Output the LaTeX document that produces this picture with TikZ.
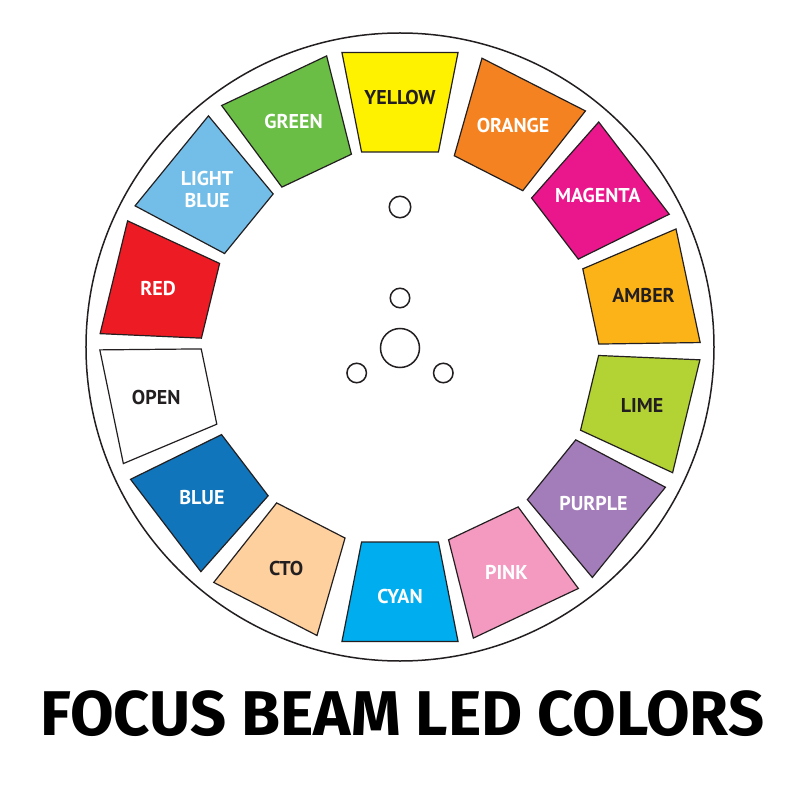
\documentclass[tikz,border=0pt]{standalone}
\usepackage{fontspec}
\setmainfont{PT Sans}
\newfontfamily\titlefont{Fira Sans}

\definecolor{ink}{HTML}{231F20}
\definecolor{cYellow}{HTML}{FFF200}
\definecolor{cOrange}{HTML}{F58220}
\definecolor{cMagenta}{HTML}{EA178C}
\definecolor{cAmber}{HTML}{FCB317}
\definecolor{cLime}{HTML}{B3D234}
\definecolor{cPurple}{HTML}{A37DB9}
\definecolor{cPink}{HTML}{F49AC1}
\definecolor{cCyan}{HTML}{00AEEF}
\definecolor{cCTO}{HTML}{FDD09E}
\definecolor{cBlue}{HTML}{1075BB}
\definecolor{cOpen}{HTML}{FFFFFF}
\definecolor{cRed}{HTML}{ED1C24}
\definecolor{cLightBlue}{HTML}{73BEE8}
\definecolor{cGreen}{HTML}{6ABD45}

\tikzset{
  seg/.style={draw=ink, line width=1.2pt, line join=miter},
  lbl/.style={font=\bfseries\fontsize{20}{22}\selectfont, align=center, inner sep=0pt},
  hole/.style={circle, draw=ink, line width=1.5pt, inner sep=0pt},
}

\begin{document}
\begin{tikzpicture}[x=1pt,y=1pt]
	\useasboundingbox (-400,-453) rectangle (400,347);
	\fill[white] (-400,-453) rectangle (400,347);

	% wheel rim
	\draw[ink, line width=1.5pt] (0,0) circle (314);

	% colour frames
	\foreach \a/\c/\t/\f [count=\i] in {
		90/cYellow/YELLOW/ink, 63/cOrange/ORANGE/white, 37.4/cMagenta/MAGENTA/white,
		12/cAmber/AMBER/ink, -13.6/cLime/LIME/ink, -39/cPurple/PURPLE/white,
		-64.7/cPink/PINK/white, -90/cCyan/CYAN/white, -117.2/cCTO/CTO/ink,
		-142.7/cBlue/BLUE/white, -168.3/cOpen/OPEN/ink, 166.3/cRed/RED/white,
		140.8/cLightBlue/{LIGHT\\BLUE}/white, 115.3/cGreen/GREEN/white}
	{
		\filldraw[seg, fill=\c] (\a+11.15:300.2) -- (\a-11.15:300.2)
			-- (\a-11.15:198.8) -- (\a+11.15:198.8) -- cycle;
		\node[lbl, text=\f] (seg\i) at (\a:249) {\t};
	}

	% hub and holes
	\node[hole, minimum size=39pt] (hub) at (0,-1) {};
	\foreach \a [count=\j] in {90,210,330}
		\path (hub.center) ++(\a:50) node[hole, minimum size=19.5pt] (bolt\j) {};
	\node[hole, minimum size=21.5pt] (pilot) at (0,140) {};

	% title
	\node[font=\titlefont\bfseries\fontsize{63.2}{63}\selectfont, inner sep=0pt] (title) at (2.5,-366.5) {FOCUS BEAM LED COLORS};
\end{tikzpicture}
\end{document}
